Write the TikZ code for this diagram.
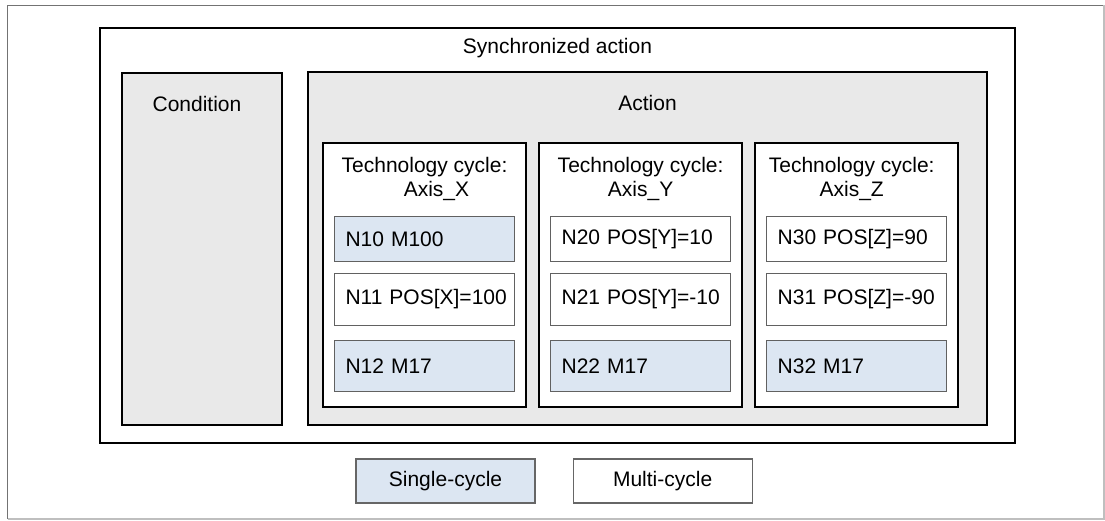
\documentclass[tikz,border=0pt]{standalone}
\usepackage{fontspec}
\setmainfont{Liberation Sans}
\usetikzlibrary{positioning}

\definecolor{onefill}{RGB}{220,230,242}
\definecolor{panelfill}{RGB}{233,233,233}

\begin{document}
\begin{tikzpicture}[
  x=1pt, y=-1pt,
  every node/.style = {font=\fontsize{21}{24}\selectfont},
  box/.style = {
    draw,
    line width=1.6pt,
    inner sep=0pt
  },
  panel/.style = {box, fill=panelfill},
  techbox/.style = {
    box,
    fill=white,
    minimum width=203pt,
    minimum height=264pt
  },
  heading/.style = {inner sep=0pt, align=center},
  stepbox/.style = {
    draw=black!62,
    line width=0.9pt,
    fill=white,
    text width=158pt,
    inner xsep=11pt,
    inner ysep=0pt,
    align=left,
    execute at begin node={\hbox\bgroup},
    execute at end node={\egroup}
  },
  onestep/.style = {stepbox, fill=onefill},
  legendbox/.style = {
    draw=black!60,
    line width=1.1pt,
    minimum width=179pt,
    minimum height=44pt,
    inner sep=0pt
  },
]
  \useasboundingbox (0,0) rectangle (1105,521);
  % page frame
  \draw[black!55, line width=1.5pt] (7.5,519) -- (7.5,5.5) -- (1104,5.5);
  \draw[black!25, line width=1.5pt] (1104,5.5) -- (1104,519) -- (7.5,519);

  \node (sync)[box, minimum width=915pt, minimum height=415pt] at (557.5,235.5) {};
  \node (synctext)[heading, below=11pt of sync.north] {Synchronized action};

  \node (cond)[panel, minimum width=160pt, minimum height=352pt] at (202,249) {};
  \node (condtext)[heading, below=24pt of cond.north, xshift=-5pt] {Condition};

  \node (action)[panel, minimum width=679pt, minimum height=353pt] at (647.5,248.5) {};
  \node (actiontext)[heading, below=24pt of action.north] {Action};

  \node (techx)[techbox] at (424.5,275) {};
  \node (techy)[techbox, right=11.5pt of techx] {};
  \node (techz)[techbox, right=11.5pt of techy] {};

  \node (headx)[heading, below=15pt of techx.north] {Technology cycle:\\\hspace*{24pt}Axis\_X};
  \node (heady)[heading, below=15pt of techy.north] {Technology cycle:\\Axis\_Y};
  \node (headz)[heading, below=15pt of techz.north, xshift=-5pt] {Technology cycle:\\Axis\_Z};

  % axis X
  \node (n10)[onestep, minimum height=45pt, below=74pt of techx.north] {N10 M100};
  \node (n11)[stepbox, minimum height=52pt, below=11pt of n10] {N11 POS[X]=100};
  \node (n12)[onestep, minimum height=51pt, below=14pt of n11] {N12 M17};
  % axis Y
  \node (n20)[stepbox, minimum height=45pt, below=74pt of techy.north] {N20 POS[Y]=10};
  \node (n21)[stepbox, minimum height=52pt, below=11pt of n20] {N21 POS[Y]=-10};
  \node (n22)[onestep, minimum height=51pt, below=14pt of n21] {N22 M17};
  % axis Z
  \node (n30)[stepbox, minimum height=45pt, below=74pt of techz.north] {N30 POS[Z]=90};
  \node (n31)[stepbox, minimum height=52pt, below=11pt of n30] {N31 POS[Z]=-90};
  \node (n32)[onestep, minimum height=51pt, below=14pt of n31] {N32 M17};

  \node (singleleg)[legendbox, fill=onefill] at (445.5,481) {Single-cycle};
  \node (multileg)[legendbox, right=37pt of singleleg] {Multi-cycle};
\end{tikzpicture}
\end{document}
